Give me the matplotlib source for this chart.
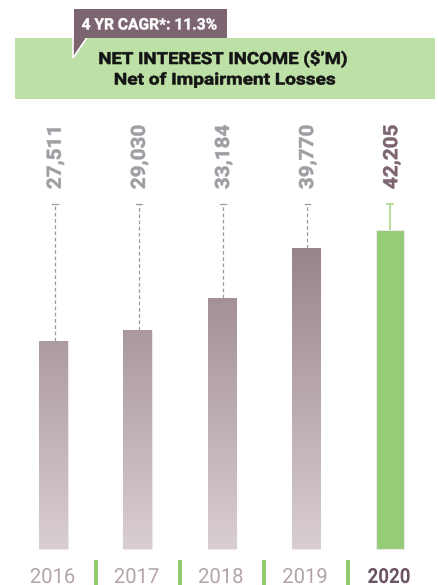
import numpy as np
import matplotlib
matplotlib.use("Agg")
import matplotlib.pyplot as plt
from matplotlib.patches import Rectangle, Polygon, PathPatch
from matplotlib.colors import LinearSegmentedColormap
from matplotlib.textpath import TextPath
from matplotlib.font_manager import FontProperties
from matplotlib.transforms import Affine2D

# net interest income, $'M
years = ["2016", "2017", "2018", "2019", "2020"]
values = [27511, 29030, 33184, 39770, 42205]
cagr_text = "4 YR CAGR*: 11.3%"
title_lines = ["NET INTEREST INCOME ($\u2019M)", "Net of Impairment Losses"]

W, H = 439, 585

GREEN_BAR = "#96cb77"
GREEN_HEAD = "#bde0a6"
MAUVE = "#7d6471"
GREY_TXT = "#9f9ea3"

fig = plt.figure(figsize=(W / 100, H / 100), dpi=100)

# main axes: category slots 84 px apart, zero line 36 px above the bottom
px_per_slot = 84.1
px_per_unit = 0.00756
x0_px, base_px = 53.5, 36
ax = fig.add_axes([0, 0, 1, 1])
xlim = (-x0_px / px_per_slot, (W - x0_px) / px_per_slot)
ylim = (-base_px / px_per_unit, (H - base_px) / px_per_unit)
ax.axis("off")

x = np.arange(len(years))
colors = ["#a48f97"] * 4 + [GREEN_BAR]
bars = ax.bar(x, values, width=0.337, color=colors, edgecolor="#efe9eb",
              linewidth=0.8, zorder=2)

# vertical fade on the earlier years
fade = LinearSegmentedColormap.from_list("fade", ["#d9ced2", "#957f88"])
grad = np.linspace(0, 1, 256).reshape(-1, 1)
ymax = max(values)
for b in bars[:-1]:
    im = ax.imshow(grad, cmap=fade, origin="lower", aspect="auto",
                   extent=(b.get_x(), b.get_x() + b.get_width(), 0, ymax),
                   zorder=2.5)
    im.set_clip_path(b)
ax.set_xlim(*xlim)
ax.set_ylim(*ylim)

# leader lines up to the value labels
lead_top = 345 / px_per_unit
cap = 0.035
for i, v in enumerate(values):
    if i == len(values) - 1:
        ax.plot([i, i], [v, lead_top], color="#b5dd9c", lw=1.4, zorder=1)
        ax.plot([i - cap, i + cap], [lead_top, lead_top], color="#b5dd9c", lw=1.4)
    else:
        ax.plot([i + 0.02, i + 0.02], [v, lead_top], color="#9c9c9c", lw=0.9,
                ls=(0, (3, 2)), zorder=1)
        ax.plot([i + 0.02 - cap, i + 0.02 + cap], [lead_top, lead_top],
                color="#9c9c9c", lw=0.9)

for i in range(len(years) - 1):
    ax.plot([i + 0.5, i + 0.5], [-11 / px_per_unit, -40 / px_per_unit],
            color="#8fcb6d", lw=2.8, solid_capstyle="butt", clip_on=False)

# overlay in pixel coordinates (y grows downward) for header and text
hd = fig.add_axes([0, 0, 1, 1], facecolor="none")
hd.set_xlim(0, W)
hd.set_ylim(H, 0)
hd.axis("off")

BOLD = FontProperties(family="Roboto", weight="bold")
CAP_REF = TextPath((0, 0), "H", size=100, prop=BOLD).get_extents().y1


def ink_text(s, x, y, cap_px, color, weight="bold", cond=1.0, width=None,
             ha="left", rot=0, stroke=0.0):
    """Draw s as outlines; (x, y) is the baseline anchor in pixels."""
    prop = FontProperties(family="Roboto", weight=weight)
    tp = TextPath((0, 0), s, size=100, prop=prop)
    ext = tp.get_extents()
    capref = TextPath((0, 0), "H", size=100, prop=prop).get_extents().y1
    b = cap_px / capref
    a = width / ext.width if width else b * cond
    off = {"left": 0, "center": ext.width / 2, "right": ext.width}[ha]
    shift = Affine2D().translate(-ext.x0 - off, 0)
    if rot == 0:
        m = Affine2D(np.array([[a, 0, x], [0, -b, y], [0, 0, 1.0]]))
    else:
        m = Affine2D(np.array([[0, -b, x], [-a, 0, y], [0, 0, 1.0]]))
    path = (shift + m).transform_path(tp)
    hd.add_patch(PathPatch(path, facecolor=color, edgecolor=color if stroke else "none",
                           lw=stroke, joinstyle="round"))


# value labels, read bottom to top; one common scale for all of them
label_cap = 14.0
ref_w = TextPath((0, 0), f"{values[0]:,}", size=100, prop=BOLD).get_extents().width
label_cond = (60 / ref_w) / (label_cap / CAP_REF)
slot_px = x0_px + px_per_slot * x
for i, v in enumerate(values):
    last = i == len(values) - 1
    ink_text(f"{v:,}", slot_px[i] + 7.3, 188.5, label_cap,
             MAUVE if last else GREY_TXT, cond=label_cond, rot=90, stroke=0.35)

# year labels
for i, yr in enumerate(years):
    last = i == len(years) - 1
    ink_text(yr, slot_px[i] - 1, 583, 14.8,
             "#6d5463" if last else "#b3a3ab",
             weight="bold" if last else "normal", cond=0.97 if not last else 0.9,
             ha="center")

# header banner and CAGR callout
hd.add_patch(Rectangle((15, 38), 420, 61, color=GREEN_HEAD, lw=0))
hd.add_patch(Polygon([(73, 36), (73, 58), (88, 36)], closed=True,
                     facecolor=MAUVE, edgecolor="white", lw=1.2, joinstyle="miter"))
hd.add_patch(Rectangle((74, 9), 153, 28.5, color=MAUVE, lw=0))
ink_text(cagr_text, 82, 29.5, 11.3, "white", width=134.5, stroke=0.3)
ink_text(title_lines[0], 223, 64, 11.8, "#141414", width=247, ha="center", stroke=0.4)
ink_text(title_lines[1], 225, 84.5, 11.5, "#141414", width=220, ha="center", stroke=0.4)

fig.savefig("out.png", dpi=100)
